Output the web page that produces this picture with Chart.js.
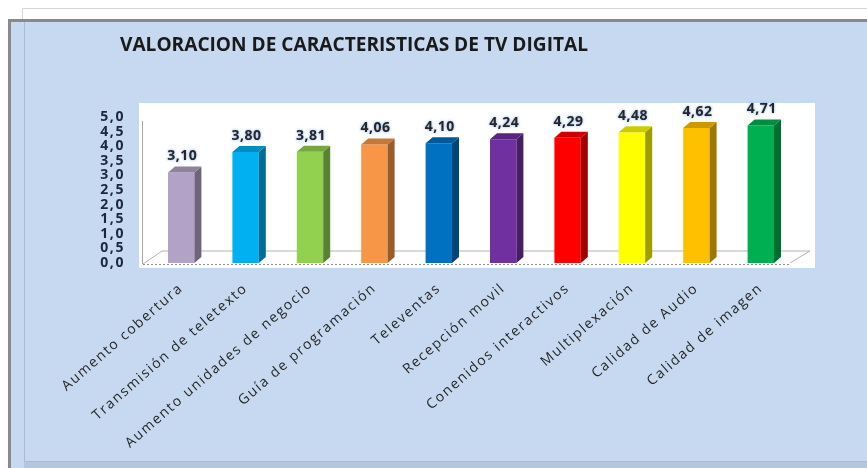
<!DOCTYPE HTML>
<html>
<head>
   <title>TV Digital</title>
   <meta charset="utf-8">
   <script src="https://cdn.jsdelivr.net/npm/chart.js"></script>
   <style>
     body { margin: 0; background: #ffffff; }
     #box { width: 867px; height: 468px; }
   </style>
</head>
<body>
   <div id="box"><canvas id="myChart" width="867" height="468"></canvas></div>

   <script type="text/javascript">
      var chartTitle = "VALORACION DE CARACTERISTICAS DE TV DIGITAL";
      var labels = ["Aumento cobertura", "Transmisión de teletexto", "Aumento unidades de negocio",
                    "Guía de programación", "Televentas", "Recepción movil", "Conenidos interactivos",
                    "Multiplexación", "Calidad de Audio", "Calidad de imagen"];
      var values = [3.10, 3.80, 3.81, 4.06, 4.10, 4.24, 4.29, 4.48, 4.62, 4.71];
      var barColors = ["#b3a2c7", "#00b0f0", "#92d050", "#f79646", "#0070c0",
                       "#7030a0", "#ff0000", "#ffff00", "#ffc000", "#00b050"];

      // darken a hex colour by factor f (0..1)
      function shade(hex, f) {
        var n = parseInt(hex.slice(1), 16);
        var r = Math.round(((n >> 16) & 255) * f);
        var g = Math.round(((n >> 8) & 255) * f);
        var b = Math.round((n & 255) * f);
        return "rgb(" + r + "," + g + "," + b + ")";
      }

      function fmt(v, d) {
        return v.toFixed(d).replace(".", ",");
      }

      var depthX = 7, depthY = -6;

      // blue panel, frames, white plot wall and floor
      var backgroundPlugin = {
        id: 'backgroundPlugin',
        beforeLayout: function (chart) {
          chart.ctx.letterSpacing = '1.6px';
        },
        beforeDraw: function (chart) {
          var c = chart.ctx;
          c.letterSpacing = '1.6px';
          c.save();
          c.fillStyle = '#ffffff';
          c.fillRect(0, 0, chart.width, chart.height);
          c.strokeStyle = '#d4d4d4';
          c.lineWidth = 1;
          c.beginPath();
          c.moveTo(22.5, 468); c.lineTo(22.5, 8.5); c.lineTo(867, 8.5);
          c.stroke();
          c.fillStyle = '#c6d9f0';
          c.fillRect(8, 19, chart.width - 8, chart.height - 19);
          c.fillStyle = '#8a8a8a';
          c.fillRect(8, 19, chart.width - 8, 3);
          c.fillRect(8, 19, 3, chart.height - 19);
          c.strokeStyle = 'rgba(120,130,150,0.35)';
          c.beginPath();
          c.moveTo(24.5, 22); c.lineTo(24.5, 461.5); c.lineTo(867, 461.5);
          c.stroke();
          c.fillStyle = 'rgba(150,165,185,0.35)';
          c.fillRect(24, 462, chart.width - 24, 6);
          // white plot wall
          c.fillStyle = '#ffffff';
          c.fillRect(139, 103, 676, 165);
          c.restore();
        },
        beforeDatasetsDraw: function (chart) {
          var c = chart.ctx;
          var area = chart.chartArea;
          var y0 = chart.scales.y.getPixelForValue(0);
          var yTop = chart.scales.y.getPixelForValue(5);
          c.save();
          c.strokeStyle = '#a6a6a6';
          c.lineWidth = 1;
          // left wall line
          c.beginPath();
          c.moveTo(area.left - 6.5, yTop + 4); c.lineTo(area.left - 6.5, y0 + 1);
          c.stroke();
          // floor
          c.strokeStyle = '#b4b4b4';
          c.beginPath();
          c.moveTo(area.left - 6, y0 + 1);
          c.lineTo(area.left + 13, y0 - 12);
          c.lineTo(area.right + 17, y0 - 12);
          c.lineTo(area.right - 3, y0);
          c.stroke();
          c.setLineDash([2, 2]);
          c.strokeStyle = '#8c8c8c';
          c.beginPath();
          c.moveTo(area.left - 6, y0 + 1.5);
          c.lineTo(area.right - 3, y0 + 1.5);
          c.stroke();
          c.restore();
        },
        afterDatasetsDraw: function (chart) {
          var c = chart.ctx;
          var meta = chart.getDatasetMeta(0);
          c.save();
          meta.data.forEach(function (bar, i) {
            var p = bar.getProps(['x', 'y', 'base', 'width'], true);
            var xl = p.x - p.width / 2, xr = p.x + p.width / 2;
            // side face
            c.fillStyle = shade(barColors[i], 0.62);
            c.beginPath();
            c.moveTo(xr, p.y); c.lineTo(xr + depthX, p.y + depthY);
            c.lineTo(xr + depthX, p.base + depthY); c.lineTo(xr, p.base);
            c.closePath(); c.fill();
            // top face
            c.fillStyle = shade(barColors[i], 0.8);
            c.beginPath();
            c.moveTo(xl, p.y); c.lineTo(xr, p.y);
            c.lineTo(xr + depthX, p.y + depthY); c.lineTo(xl + depthX, p.y + depthY);
            c.closePath(); c.fill();
            // value label
            c.letterSpacing = '0.5px';
            c.font = 'bold 14px "Open Sans"';
            c.textAlign = 'center';
            c.textBaseline = 'middle';
            c.shadowColor = 'rgba(70,130,220,0.7)';
            c.shadowBlur = 3;
            c.fillStyle = '#262626';
            c.fillText(fmt(values[i], 2), p.x + 1, p.y - 16);
            c.shadowBlur = 0;
          });
          c.restore();
        },
        afterDraw: function (chart) {
          var c = chart.ctx;
          c.save();
          c.letterSpacing = '0px';
          c.font = 'bold 20px "Open Sans"';
          c.fillStyle = '#1a1a1a';
          c.textBaseline = 'middle';
          var w = c.measureText(chartTitle).width;
          c.translate(120, 45);
          c.scale(468 / w, 1);
          c.fillText(chartTitle, 0, 0);
          c.restore();
        }
      };

      const ctx = document.getElementById('myChart');
      var myChart = new Chart(ctx, {
        type: 'bar',
        data: {
          labels: labels,
          datasets: [{
            data: values,
            backgroundColor: barColors,
            borderWidth: 0,
            categoryPercentage: 1,
            barPercentage: 0.41
          }]
        },
        options: {
          responsive: false,
          animation: false,
          layout: { padding: { left: 0, right: 74, top: 117, bottom: 0 } },
          plugins: {
            legend: { display: false },
            title: { display: false },
            tooltip: { enabled: false }
          },
          scales: {
            x: {
              grid: { display: false, drawTicks: false },
              border: { display: false },
              ticks: {
                autoSkip: false,
                minRotation: 41,
                maxRotation: 41,
                padding: 17,
                color: '#262626',
                font: { family: '"Open Sans"', size: 14 }
              },
              afterFit: function (scale) { scale.height = 205; }
            },
            y: {
              min: 0,
              max: 5,
              grid: { display: false, drawTicks: false },
              border: { display: false },
              ticks: {
                autoSkip: false,
                stepSize: 0.5,
                padding: 24,
                color: '#1c2541',
                font: { family: '"Open Sans"', size: 14, weight: 'bold', lineHeight: 1 },
                callback: function (v) { return fmt(v, 1); }
              },
              afterFit: function (scale) { scale.width = 149; }
            }
          }
        },
        plugins: [backgroundPlugin]
      });
   </script>
</body>
</html>
